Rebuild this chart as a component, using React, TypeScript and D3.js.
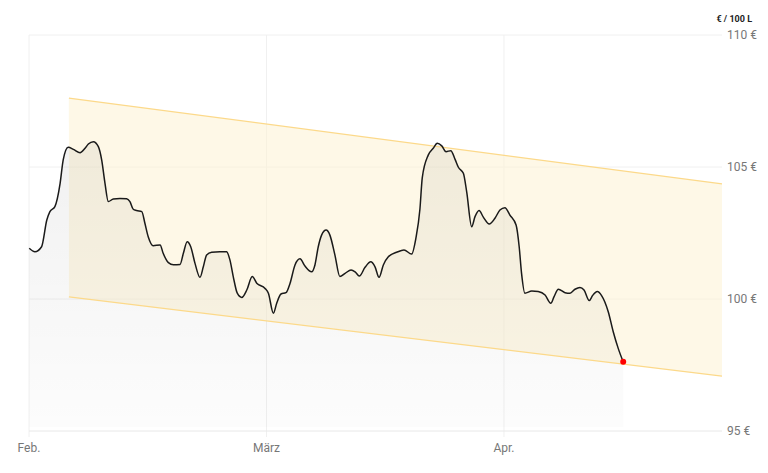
import { useEffect, useRef } from 'react'
import * as d3 from 'd3'

// time in months since 1 Feb (Feb = 0, März = 1, Apr = 2)
const T = [
  0.001, 0.025, 0.053, 0.075, 0.088, 0.109, 0.131, 0.144, 0.165, 0.187, 0.215, 0.236, 0.250, 0.271,
  0.292, 0.306, 0.320, 0.334, 0.355, 0.383, 0.411, 0.425, 0.439, 0.453, 0.475, 0.488, 0.502, 0.523,
  0.552, 0.565, 0.587, 0.608, 0.636, 0.650, 0.666, 0.681, 0.699, 0.720, 0.734, 0.748, 0.769, 0.804,
  0.832, 0.846, 0.860, 0.877, 0.896, 0.917, 0.940, 0.959, 0.994, 1.008, 1.029, 1.043, 1.061, 1.082,
  1.099, 1.120, 1.141, 1.162, 1.190, 1.204, 1.218, 1.232, 1.251, 1.267, 1.288, 1.309, 1.331, 1.356,
  1.373, 1.391, 1.415, 1.439, 1.457, 1.474, 1.492, 1.513, 1.548, 1.579, 1.611, 1.629, 1.646, 1.656,
  1.681, 1.702, 1.719, 1.738, 1.756, 1.776, 1.794, 1.808, 1.829, 1.843, 1.864, 1.878, 1.895, 1.913,
  1.938, 1.962, 1.983, 2.004, 2.025, 2.051, 2.064, 2.074, 2.088, 2.117, 2.144, 2.173, 2.197, 2.211,
  2.229, 2.257, 2.278, 2.299, 2.320, 2.337, 2.359, 2.373, 2.393, 2.411, 2.439, 2.460, 2.481, 2.502,
]
const PRICE = [
  101.92, 101.79, 101.98, 102.99, 103.31, 103.50, 104.38, 105.27, 105.75, 105.67, 105.54, 105.71, 105.87, 105.96,
  105.77, 105.27, 104.38, 103.69, 103.79, 103.81, 103.80, 103.69, 103.40, 103.35, 103.31, 102.87, 102.36, 102.02,
  102.05, 101.73, 101.38, 101.30, 101.31, 101.73, 102.17, 101.98, 101.35, 100.82, 101.22, 101.67, 101.77, 101.79,
  101.79, 101.48, 100.85, 100.22, 100.06, 100.34, 100.85, 100.60, 100.40, 100.22, 99.46, 99.84, 100.19, 100.24,
  100.59, 101.29, 101.52, 101.25, 101.03, 101.29, 101.98, 102.42, 102.61, 102.42, 101.67, 100.85, 100.97, 101.10,
  101.03, 100.87, 101.20, 101.41, 101.22, 100.82, 101.29, 101.60, 101.77, 101.86, 101.70, 102.30, 103.40, 104.60,
  105.45, 105.71, 105.90, 105.80, 105.58, 105.62, 105.29, 104.99, 104.76, 104.06, 102.74, 103.12, 103.35, 103.10,
  102.84, 103.06, 103.37, 103.46, 103.18, 102.80, 101.98, 100.97, 100.22, 100.30, 100.28, 100.15, 99.84, 100.09,
  100.37, 100.24, 100.22, 100.37, 100.44, 100.34, 99.94, 100.13, 100.28, 100.13, 99.52, 98.76, 98.13, 97.62,
]

// trend channel: [start, end]
const CHANNEL_T = [0.168, 2.918]
const CHANNEL_UPPER = [107.61, 104.36]
const CHANNEL_LOWER = [100.08, 97.08]

const MONTH_TICKS = [0, 1, 2]
const MONTH_LABELS = ['Feb.', 'März', 'Apr.']
const PRICE_TICKS = [95, 100, 105, 110]
const UNIT = '€ / 100 L'

export default function App() {
  const svgRef = useRef<SVGSVGElement>(null)

  useEffect(() => {
    if (!svgRef.current) return
    const svg = d3.select(svgRef.current)
    svg.selectAll('*').remove()

    const W = 768, H = 473
    const x = d3.scaleLinear().domain([0, 2.918]).range([29, 722])
    const y = d3.scaleLinear().domain([95, 110]).range([431, 35])
    const font = 'Roboto, "Noto Sans", sans-serif'

    const data = T.map((t, i) => ({ t, v: PRICE[i] }))

    const defs = svg.append('defs')
    const grad = defs.append('linearGradient').attr('id', 'areaGrad')
      .attr('x1', 0).attr('y1', 0).attr('x2', 0).attr('y2', 1)
    grad.append('stop').attr('offset', '0%').attr('stop-color', '#000').attr('stop-opacity', 0.055)
    grad.append('stop').attr('offset', '100%').attr('stop-color', '#000').attr('stop-opacity', 0.012)

    // Grid
    svg.append('g')
      .selectAll('line')
      .data(PRICE_TICKS.filter(d => d !== 95))
      .join('line')
      .attr('x1', x(0)).attr('x2', x(2.918))
      .attr('y1', d => y(d)).attr('y2', d => y(d))
      .attr('stroke', '#f0f0f0').attr('stroke-width', 1)

    svg.append('g')
      .selectAll('line')
      .data(MONTH_TICKS)
      .join('line')
      .attr('x1', d => x(d)).attr('x2', d => x(d))
      .attr('y1', y(110)).attr('y2', y(95) + 6)
      .attr('stroke', '#f0f0f0').attr('stroke-width', 1)

    // Channel
    const chan = CHANNEL_T.map((t, i) => ({ t, hi: CHANNEL_UPPER[i], lo: CHANNEL_LOWER[i] }))
    svg.append('path')
      .datum(chan)
      .attr('d', d3.area<typeof chan[0]>().x(d => x(d.t)).y0(d => y(d.lo)).y1(d => y(d.hi)))
      .attr('fill', '#fdf3d3').attr('fill-opacity', 0.55)

    const curve = d3.curveMonotoneX

    // Area under the line
    svg.append('path')
      .datum(data)
      .attr('d', d3.area<typeof data[0]>().x(d => x(d.t)).y0(y(95) - 4).y1(d => y(d.v)).curve(curve))
      .attr('fill', 'url(#areaGrad)')

    // Channel borders
    ;[CHANNEL_UPPER, CHANNEL_LOWER].forEach(vals => {
      svg.append('path')
        .datum(CHANNEL_T.map((t, i) => ({ t, v: vals[i] })))
        .attr('d', d3.line<{ t: number; v: number }>().x(d => x(d.t)).y(d => y(d.v)))
        .attr('fill', 'none').attr('stroke', '#fcd98a').attr('stroke-width', 1.2)
    })

    // Baseline
    svg.append('line')
      .attr('x1', x(0)).attr('x2', x(2.918))
      .attr('y1', y(95)).attr('y2', y(95))
      .attr('stroke', '#e8e8e8').attr('stroke-width', 1)

    // Price line
    svg.append('path')
      .datum(data)
      .attr('d', d3.line<typeof data[0]>().x(d => x(d.t)).y(d => y(d.v)).curve(curve))
      .attr('fill', 'none').attr('stroke', '#1a1a1a').attr('stroke-width', 1.5)
      .attr('stroke-linejoin', 'round')

    const last = data[data.length - 1]
    svg.append('circle')
      .attr('cx', x(last.t)).attr('cy', y(last.v)).attr('r', 3)
      .attr('fill', '#ff0000')

    // Y labels
    svg.append('g')
      .selectAll('text')
      .data(PRICE_TICKS)
      .join('text')
      .attr('x', 727).attr('y', d => y(d) + 4)
      .attr('font-family', font).attr('font-size', 12).attr('fill', '#777')
      .text(d => `${d} €`)

    svg.append('text')
      .attr('x', 752).attr('y', 22).attr('text-anchor', 'end')
      .attr('font-family', font).attr('font-size', 9).attr('font-weight', 700).attr('fill', '#222')
      .text(UNIT)

    // X labels
    svg.append('g')
      .selectAll('text')
      .data(MONTH_TICKS)
      .join('text')
      .attr('x', d => x(d)).attr('y', 452).attr('text-anchor', 'middle')
      .attr('font-family', font).attr('font-size', 12).attr('fill', '#777')
      .text((_, i) => MONTH_LABELS[i])

    svg.attr('width', W).attr('height', H)
  }, [])

  return (
    <svg ref={svgRef} width={768} height={473}
      style={{ position: 'absolute', left: 0, top: 0, background: '#fff' }} />
  )
}
